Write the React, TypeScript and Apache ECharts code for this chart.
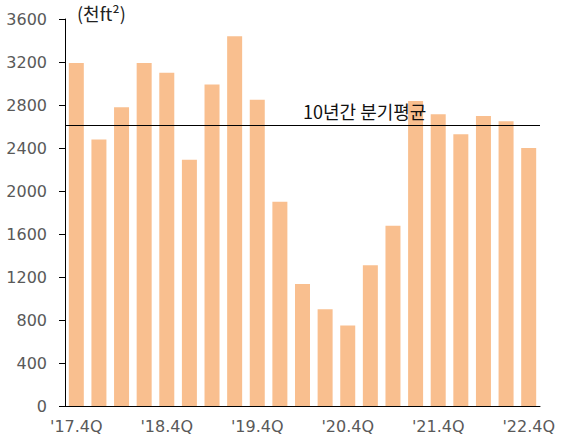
import React, { useEffect, useRef } from "react";
import * as echarts from "echarts";

const categories = [
  "'17.4Q", "'18.1Q", "'18.2Q", "'18.3Q", "'18.4Q", "'19.1Q", "'19.2Q", "'19.3Q", "'19.4Q",
  "'20.1Q", "'20.2Q", "'20.3Q", "'20.4Q", "'21.1Q", "'21.2Q", "'21.3Q", "'21.4Q",
  "'22.1Q", "'22.2Q", "'22.3Q", "'22.4Q",
];
const values = [
  3190, 2480, 2780, 3190, 3100, 2290, 2990, 3440, 2850,
  1900, 1135, 900, 748, 1310, 1677, 2837, 2713,
  2527, 2698, 2648, 2400,
];
const average = 2610;
const averageLabel = "10년간 분기평균";
const unitLabel = "(천ft²)";

export default function App() {
  const ref = useRef<HTMLDivElement>(null);
  useEffect(() => {
    if (!ref.current) return;
    const chart = echarts.init(ref.current, null, { renderer: "svg" });
    chart.setOption({
      animation: false,
      grid: { left: 65, right: 31, top: 19, bottom: 40, containLabel: false },
      xAxis: {
        type: "category",
        data: categories,
        boundaryGap: true,
        axisLine: { show: true, lineStyle: { color: "#000", width: 1 } },
        axisTick: { show: false },
        axisLabel: {
          interval: 3,
          color: "#595959",
          fontSize: 16,
          fontFamily: "DejaVu Sans",
          margin: 12,
        },
      },
      yAxis: {
        type: "value",
        min: 0,
        max: 3600,
        interval: 400,
        axisLine: { show: true, lineStyle: { color: "#000", width: 1 } },
        axisTick: { show: true, length: 6, lineStyle: { color: "#000" } },
        splitLine: { show: false },
        axisLabel: {
          color: "#595959",
          fontSize: 16,
          fontFamily: "DejaVu Sans",
          margin: 18,
          formatter: (v: number) => String(v),
        },
      },
      series: [
        {
          type: "bar",
          data: values,
          barWidth: 15,
          itemStyle: { color: "#F9BF8F" },
          markLine: {
            silent: true,
            symbol: "none",
            label: { show: false },
            lineStyle: { color: "#000", width: 1, type: "solid" },
            data: [{ yAxis: average }],
          },
        },
      ],
      graphic: [
        {
          type: "text",
          left: 303,
          top: 102,
          z: 100,
          style: {
            text: averageLabel,
            fontSize: 18,
            fontFamily: "Noto Sans CJK KR",
            fill: "#111",
          },
        },
        {
          type: "text",
          left: 77,
          top: 4,
          z: 100,
          style: {
            text: unitLabel,
            fontSize: 18,
            fontFamily: "Noto Sans CJK KR",
            fill: "#222",
          },
        },
      ],
    });
    return () => chart.dispose();
  }, []);
  return (
    <div
      ref={ref}
      style={{ position: "absolute", left: 0, top: 0, width: 571, height: 446 }}
    />
  );
}
